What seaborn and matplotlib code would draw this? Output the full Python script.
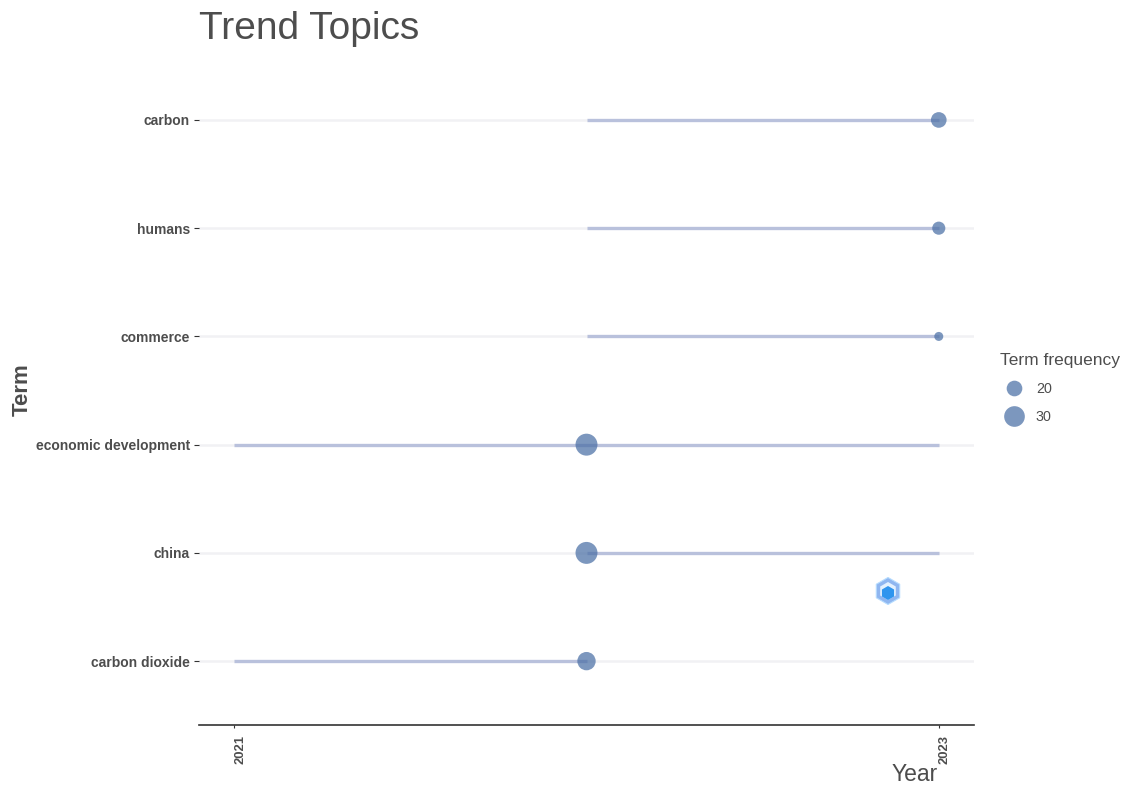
import matplotlib
matplotlib.use("Agg")
import matplotlib.pyplot as plt
from matplotlib.lines import Line2D
from matplotlib.patches import RegularPolygon
from matplotlib.transforms import ScaledTranslation
import pandas as pd
import seaborn as sns

terms = ["carbon dioxide", "china", "economic development", "commerce", "humans", "carbon"]
year_start = [2021, 2022, 2021, 2022, 2022, 2022]
year_end = [2022, 2023, 2023, 2023, 2023, 2023]
year_median = [2022, 2022, 2022, 2023, 2023, 2023]
frequency = [25, 33, 33, 11, 16, 20]
legend_values = [20, 30]
x_ticks = [2021, 2023]

W, H = 1122, 787
sns.set_theme(style="white")
plt.rcParams["font.family"] = ["Liberation Sans", "DejaVu Sans"]

fig = plt.figure(figsize=(W / 100, H / 100), dpi=100)
ax = fig.add_axes([199 / W, 1 - 725 / H, (974 - 199) / W, (725 - 55) / H])

df = pd.DataFrame({"term": terms, "start": year_start, "end": year_end,
                   "median": year_median, "freq": frequency})

S_MIN, S_MAX = 42, 250
F_MIN, F_MAX = min(frequency), max(frequency)
def area(v):
    return S_MIN + (v - F_MIN) / (F_MAX - F_MIN) * (S_MAX - S_MIN)

POINT = "#4a6fa5"
ax.hlines(df["term"], df["start"], df["end"], color="#b9c1dc", lw=2.4, zorder=2)
sns.scatterplot(data=df, x="median", y="term", size="freq", sizes=(S_MIN, S_MAX),
                size_norm=(F_MIN, F_MAX), color=POINT, alpha=0.72,
                edgecolor="none", legend=False, ax=ax, zorder=3)

ax.set_xlim(2020.90, 2023.10)
ax.set_ylim(-0.59, 5.6)
ax.grid(axis="y", color="#f1f1f4", lw=1.8)
ax.grid(axis="x", visible=False)
ax.set_axisbelow(True)

for side in ("top", "right", "left"):
    ax.spines[side].set_visible(False)
ax.spines["bottom"].set_color("#333333")
ax.spines["bottom"].set_linewidth(1.2)

ax.set_xticks(x_ticks)
ax.set_xticklabels([str(v) for v in x_ticks], rotation=90, fontweight="bold",
                   fontsize=9.4, color="#4d4d4d")
ax.tick_params(axis="x", length=2.5, width=0.8, color="#333333", pad=5, bottom=True)
ax.tick_params(axis="y", length=3.5, width=0.8, color="#333333", pad=3, left=True,
               labelsize=10, labelcolor="#4d4d4d")
shift = ScaledTranslation(6 / 100, 0, fig.dpi_scale_trans)
for lab in ax.get_xticklabels():
    lab.set_transform(lab.get_transform() + shift)
for lab in ax.get_yticklabels():
    lab.set_fontweight("bold")

ax.set_xlabel("Year", fontsize=16.5, color="#4d4d4d")
ax.xaxis.set_label_coords((915 - 199) / (974 - 199), (725 - 786) / (725 - 55), transform=ax.transAxes)
ax.xaxis.label.set_va("bottom")
ax.set_ylabel("Term", fontsize=16, fontweight="bold", color="#4d4d4d")
ax.yaxis.set_label_coords((33 - 199) / (974 - 199), (725 - 390) / (725 - 55))

fig.text(199 / W, 1 - 39 / H, "Trend Topics", fontsize=28, color="#4d4d4d", ha="left", va="baseline")

handles = [Line2D([], [], ls="", marker="o", mec="none", mfc=POINT, alpha=0.72,
                  ms=area(v) ** 0.5, label=str(v)) for v in legend_values]
leg = ax.legend(handles=handles, title="Term frequency", frameon=False,
                loc="upper left", bbox_to_anchor=(1000 / W, 1 - 353 / H),
                bbox_transform=fig.transFigure, fontsize=10.3, title_fontsize=12.5,
                labelspacing=1.0, handletextpad=0.5, borderpad=0, borderaxespad=0,
                handlelength=2.0)
leg.get_title().set_color("#4d4d4d")
leg._legend_box.align = "left"
leg._legend_box.sep = 10
for t in leg.get_texts():
    t.set_color("#4d4d4d")

# small hexagonal watermark, placed in figure pixels
tr = fig.dpi_scale_trans
cx, cy = 888 / 100, (H - 591) / 100
fig.add_artist(RegularPolygon((cx, cy), 6, radius=0.135, transform=tr, fc="#8fb6f0", ec="#b5dcff", lw=0.8, zorder=5))
fig.add_artist(RegularPolygon((cx, cy), 6, radius=0.09, transform=tr, fc="#e3f1ff", ec="none", zorder=6))
fig.add_artist(RegularPolygon((cx, cy - 0.02), 6, radius=0.07, transform=tr, fc="#2f95ee", ec="none", zorder=7))

fig.savefig("out.png", dpi=100, facecolor="white")
